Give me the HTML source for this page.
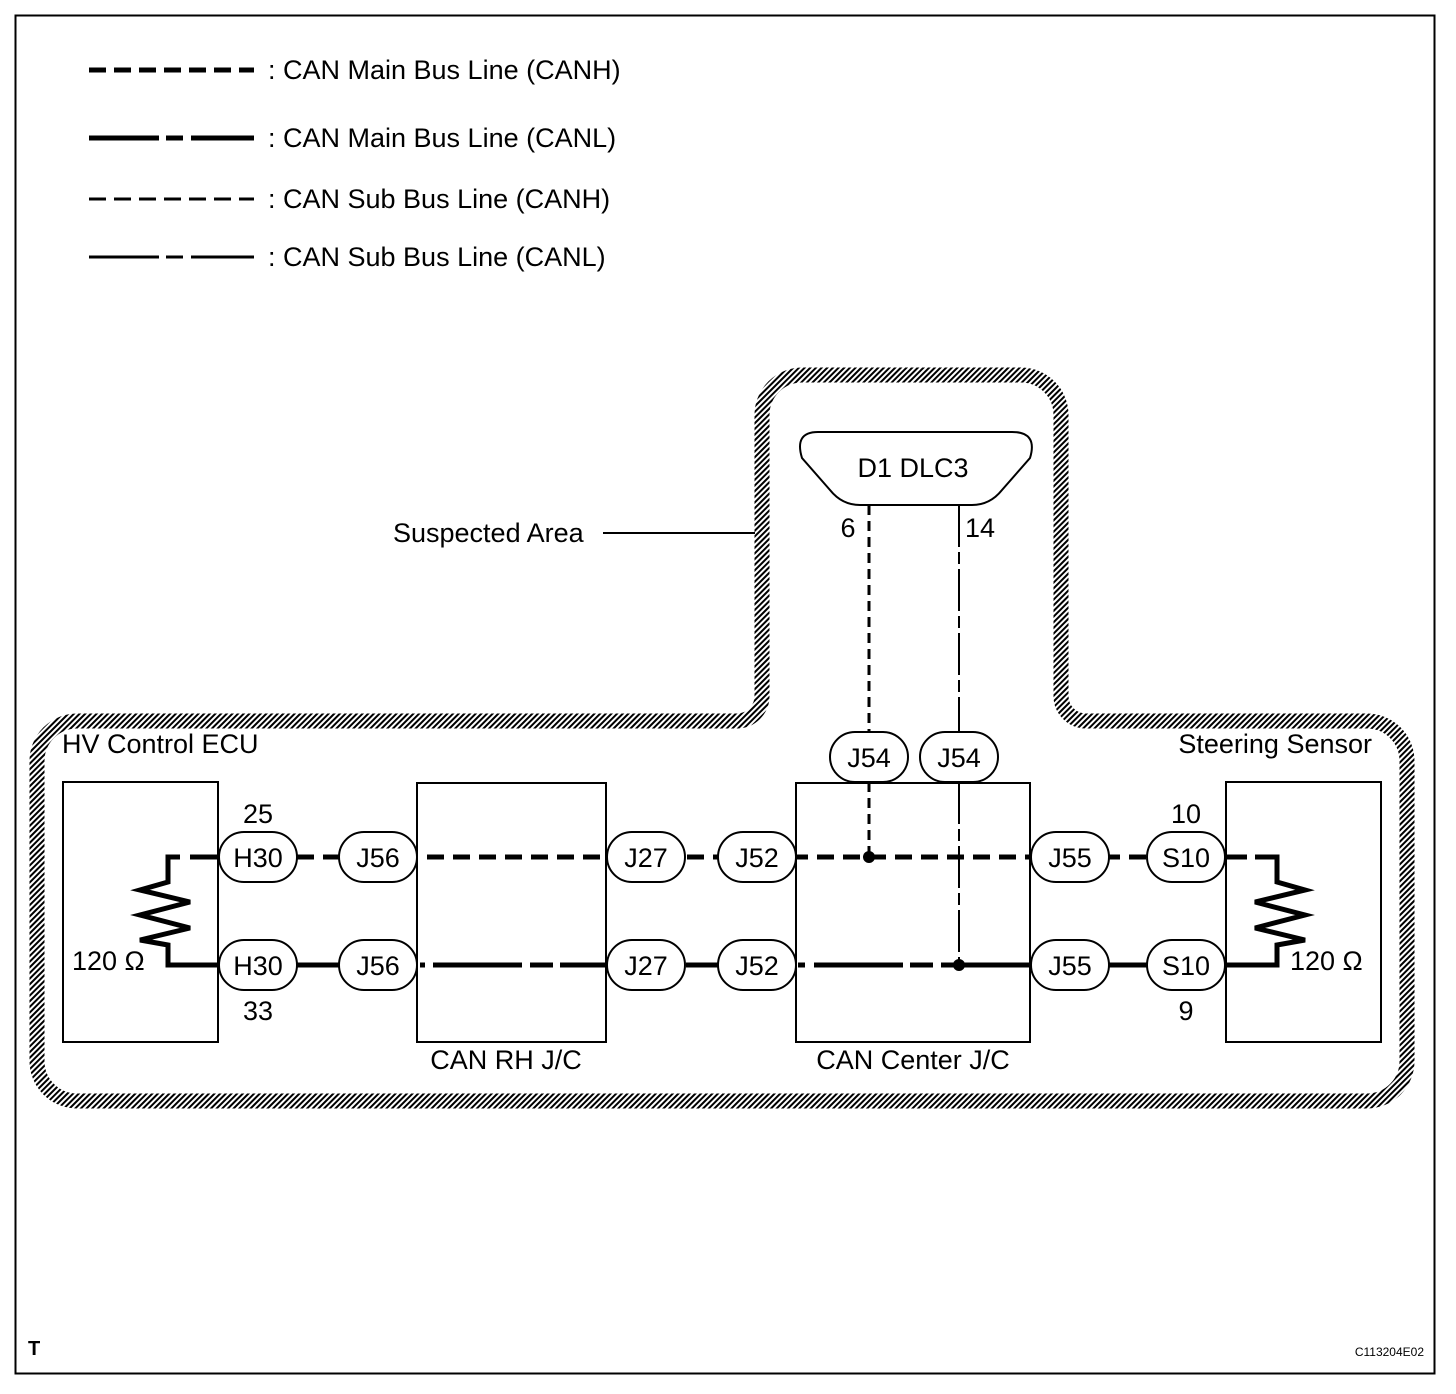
<!DOCTYPE html>
<html><head><meta charset="utf-8"><style>
html,body{margin:0;padding:0;background:#fff}
svg{display:block}
text{font-family:"Liberation Sans",Arial,sans-serif;fill:#000}
</style></head><body>
<svg width="1456" height="1394" viewBox="0 0 1456 1394" xmlns="http://www.w3.org/2000/svg">
<defs>
<pattern id="h" patternUnits="userSpaceOnUse" width="4" height="4" patternTransform="rotate(45)">
<rect x="0" y="0" width="2" height="4" fill="#000"/>
</pattern>
</defs>
<rect x="15.5" y="15.5" width="1419" height="1358" fill="none" stroke="#000" stroke-width="2"/>

<!-- legend -->
<g stroke="#000" fill="none">
<line x1="89" y1="70" x2="254" y2="70" stroke-width="5" stroke-dasharray="17 8"/>
<path d="M89 138H159M166 138H183M191 138H254" stroke-width="5"/>
<line x1="89" y1="199" x2="254" y2="199" stroke-width="3" stroke-dasharray="17 8"/>
<path d="M89 257H159M166 257H183M191 257H254" stroke-width="3"/>
</g>
<g font-size="27">
<text x="268" y="79">: CAN Main Bus Line (CANH)</text>
<text x="268" y="147">: CAN Main Bus Line (CANL)</text>
<text x="268" y="208">: CAN Sub Bus Line (CANH)</text>
<text x="268" y="266">: CAN Sub Bus Line (CANL)</text>
</g>

<!-- suspected area -->
<path d="M37 761A40 40 0 0 1 77 721L737 721A25 25 0 0 0 762 696L762 415A40 40 0 0 1 802 375L1021 375A40 40 0 0 1 1061 415L1061 696A25 25 0 0 0 1086 721L1367 721A40 40 0 0 1 1407 761L1407 1061A40 40 0 0 1 1367 1101L77 1101A40 40 0 0 1 37 1061Z" fill="none" stroke="url(#h)" stroke-width="15"/>
<text x="393" y="542" font-size="27">Suspected Area</text>
<line x1="603" y1="533" x2="755" y2="533" stroke="#000" stroke-width="2"/>

<!-- boxes -->
<g fill="none" stroke="#000" stroke-width="2">
<rect x="63" y="782" width="155" height="260"/>
<rect x="417" y="783" width="189" height="259"/>
<rect x="796" y="783" width="234" height="259"/>
<rect x="1226" y="782" width="155" height="260"/>
<path d="M818 432H1012Q1038 432 1030 458L1002 490Q990 505 972 505H860Q842 505 830 490L802 458Q794 432 818 432Z"/>
</g>
<text x="62" y="753" font-size="27">HV Control ECU</text>
<text x="1372" y="753" font-size="27" text-anchor="end">Steering Sensor</text>
<text x="506" y="1069" font-size="27" text-anchor="middle">CAN RH J/C</text>
<text x="913" y="1069" font-size="27" text-anchor="middle">CAN Center J/C</text>
<text x="913" y="477" font-size="27" text-anchor="middle">D1 DLC3</text>

<!-- buses -->
<g stroke="#000" fill="none">
<line x1="297" y1="857" x2="1147" y2="857" stroke-width="5" stroke-dasharray="17 9"/>
<path d="M297 965H340M420 965H425M433 965H522M530 965H553M560 965H606M686 965H718M798 965H805M814 965H903M910 965H933M941 965H1147" stroke-width="5"/>
<path d="M1226 965H1277V945L1305 940L1255 928L1305 915L1255 902L1305 890L1277 882V857H1255" stroke-width="5"/>
<path d="M1247 857H1226" stroke-width="5"/>
<path d="M218 965H168V945L140 940L190 928L140 915L190 902L140 890L168 882V857H180" stroke-width="5"/>
<path d="M190 857H218" stroke-width="5"/>
<line x1="869" y1="505" x2="869" y2="732" stroke-width="3" stroke-dasharray="10 6"/>
<line x1="869" y1="782" x2="869" y2="857" stroke-width="3" stroke-dasharray="10 6"/>
<line x1="959" y1="505" x2="959" y2="732" stroke-width="2" stroke-dasharray="42 5 12 5"/>
<line x1="959" y1="782" x2="959" y2="965" stroke-width="2" stroke-dasharray="42 5 12 5"/>
</g>
<circle cx="869" cy="857" r="6" fill="#000"/>
<circle cx="959" cy="965" r="6" fill="#000"/>

<!-- connectors -->
<g fill="#fff" stroke="#000" stroke-width="2">
<rect x="219" y="832" width="78" height="50" rx="25"/>
<rect x="219" y="940" width="78" height="50" rx="25"/>
<rect x="339" y="832" width="78" height="50" rx="25"/>
<rect x="339" y="940" width="78" height="50" rx="25"/>
<rect x="607" y="832" width="78" height="50" rx="25"/>
<rect x="607" y="940" width="78" height="50" rx="25"/>
<rect x="718" y="832" width="78" height="50" rx="25"/>
<rect x="718" y="940" width="78" height="50" rx="25"/>
<rect x="1031" y="832" width="78" height="50" rx="25"/>
<rect x="1031" y="940" width="78" height="50" rx="25"/>
<rect x="1147" y="832" width="78" height="50" rx="25"/>
<rect x="1147" y="940" width="78" height="50" rx="25"/>
<rect x="830" y="732" width="78" height="50" rx="25"/>
<rect x="920" y="732" width="78" height="50" rx="25"/>
</g>
<g font-size="27" text-anchor="middle">
<text x="258" y="867">H30</text><text x="258" y="975">H30</text>
<text x="378" y="867">J56</text><text x="378" y="975">J56</text>
<text x="646" y="867">J27</text><text x="646" y="975">J27</text>
<text x="757" y="867">J52</text><text x="757" y="975">J52</text>
<text x="1070" y="867">J55</text><text x="1070" y="975">J55</text>
<text x="1186" y="867">S10</text><text x="1186" y="975">S10</text>
<text x="869" y="767">J54</text><text x="959" y="767">J54</text>
<text x="258" y="823">25</text><text x="258" y="1020">33</text>
<text x="1186" y="823">10</text><text x="1186" y="1020">9</text>
<text x="848" y="537">6</text><text x="980" y="537">14</text>
</g>
<text x="72" y="970" font-size="27">120 Ω</text>
<text x="1290" y="970" font-size="27">120 Ω</text>
<text x="28" y="1355" font-size="20" font-weight="bold">T</text>
<text x="1424" y="1356" font-size="12" text-anchor="end">C113204E02</text>
</svg>
</body></html>
